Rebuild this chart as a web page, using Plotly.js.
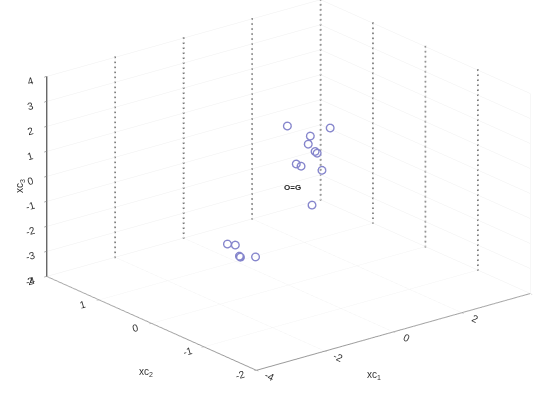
<!DOCTYPE html>
<html>
<head>
<meta charset="utf-8">
<script src="https://cdn.plot.ly/plotly-3.0.1.min.js"></script>
<style>
html,body{margin:0;padding:0;background:#fff;}
#chart{width:537px;height:396px;}
</style>
</head>
<body>
<div id="chart"></div>
<script>
// data (cluster points)
var xc1 = [-0.04, 1.21, 0.63, 0.57, 0.83, 0.77, 0.22, 0.36, 0.97, 0.68, -1.79, -1.56, -1.44, -1.41, -0.97];
var xc2 = [0, 0, 0, 0, 0, 0, 0, 0, 0, 0, 0, 0, 0, 0, 0];
var xc3 = [2.38, 1.82, 1.72, 1.42, 0.96, 1.05, 0.76, 0.62, 0.22, -1.06, -1.67, -1.80, -2.29, -2.34, -2.50];

// axis ticks
var xTicks = [-4, -2, 0, 2, 4];
var yTicks = [-2, -1, 0, 1, 2];
var zTicks = [-4, -3, -2, -1, 0, 1, 2, 3, 4];
var xTickText = ['-4', '-2', '0', '2', ''];

// label
var labelText = '<b>O=G</b>';
var labelPos = [0.13, 0, -0.13];

var xr = [xTicks[0], xTicks[xTicks.length-1]];
var yr = [yTicks[0], yTicks[yTicks.length-1]];
var zr = [zTicks[0], zTicks[zTicks.length-1]];

// dotted vertical grid lines on the back walls (drawn as rows of small dots)
var dotStep = 0.2;
var gx = [], gy = [], gz = [];
function addDots(x, y){
  for (var z = zr[0]; z <= zr[1] + 1e-9; z += dotStep) { gx.push(x); gy.push(y); gz.push(z); }
}
xTicks.forEach(function(t){ if (t > xr[0]) addDots(t, yr[1]); });
yTicks.forEach(function(t){ if (t > yr[0] && t < yr[1]) addDots(xr[1], t); });

var traces = [
  {type:'scatter3d', mode:'markers', x:gx, y:gy, z:gz,
   marker:{symbol:'square', size:0.9, color:'#777777', line:{width:0}}, hoverinfo:'skip', showlegend:false},
  {type:'scatter3d', mode:'markers', x:xc1, y:xc2, z:xc3,
   marker:{symbol:'circle-open', size:4.8, color:'#8585cc', line:{color:'#8585cc', width:1}},
   hoverinfo:'skip', showlegend:false}
];

var V = [-0.580, -0.733, 0.354];
var dist = 3;
var C = [-0.0936, 0.0444, -0.0614];

function ax(range, ticks, text, lc, lw){
  return {
    range: range, autorange:false, tickvals: ticks, ticktext: text || ticks.map(String),
    title:{text:''},
    tickfont:{family:'Liberation Sans, Arial', size:11, color:'#333'},
    showgrid:true, gridcolor:'#efefef', gridwidth:1,
    showbackground:false, zeroline:false, showspikes:false,
    showline:true, linecolor:lc, linewidth:lw,
    ticks:'outside', ticklen:3, tickcolor:lc
  };
}

var tf = {family:'Liberation Sans, Arial', size:10, color:'#333'};
var layout = {
  width:537, height:396,
  margin:{l:0, r:0, t:0, b:0},
  paper_bgcolor:'#ffffff',
  showlegend:false,
  scene:{
    domain:{x:[0,1], y:[0,1]},
    xaxis: ax(xr, xTicks, xTickText, '#999', 2),
    yaxis: ax(yr, yTicks, null, '#999', 2),
    zaxis: ax(zr, zTicks, null, '#555', 3),
    aspectmode:'manual',
    aspectratio:{x:1.764, y:1.707, z:1.080},
    camera:{
      eye:{x:C[0]+V[0]*dist, y:C[1]+V[1]*dist, z:C[2]+V[2]*dist},
      up:{x:0, y:0, z:1},
      center:{x:C[0], y:C[1], z:C[2]},
      projection:{type:'orthographic'}
    },
    annotations:[{x:labelPos[0], y:labelPos[1], z:labelPos[2], text:labelText, showarrow:false,
      font:{family:'Liberation Sans, Arial', size:8, color:'#222'}}]
  },
  annotations:[
    {xref:'paper', yref:'paper', x:383/537, y:1-383/396, text:'xc<sub>1</sub>', showarrow:false, font:tf},
    {xref:'paper', yref:'paper', x:137/537, y:1-380/396, text:'xc<sub>2</sub>', showarrow:false, font:tf},
    {xref:'paper', yref:'paper', x:12/537, y:1-186/396, text:'xc<sub>3</sub>', textangle:-90, showarrow:false, font:tf}
  ]
};

Plotly.newPlot('chart', traces, layout, {displayModeBar:false});
</script>
</body>
</html>
